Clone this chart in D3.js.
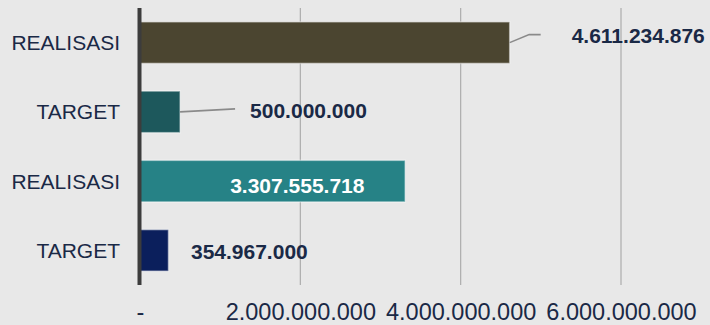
<!DOCTYPE html>
<html>
<head>
<meta charset="utf-8">
<script src="https://cdn.jsdelivr.net/npm/d3@7"></script>
<style>
  html, body { margin: 0; padding: 0; background: #e8e8e8; }
  svg { display: block; font-family: "Liberation Sans", Arial, sans-serif; }
</style>
</head>
<body>
<svg id="chart" width="710" height="325"></svg>
<script>
// Bar categories, top to bottom
const categories = ["REALISASI", "TARGET", "REALISASI", "TARGET"];
// Values in rupiah
const values = [4611234876, 500000000, 3307555718, 354967000];
// Bar fills
const colors = ["#4b4530", "#1d585c", "#268286", "#0b1f5c"];
// X axis ticks
const tickValues = [0, 2000000000, 4000000000, 6000000000];
const tickLabels = ["-", "2.000.000.000", "4.000.000.000", "6.000.000.000"];

// Data label placement relative to the end of each bar
const labelDx = [62, 70, -175, 22.5];
const labelDy = [-7.5, -1, 4, 1];
const labelFill = ["#1a2946", "#1a2946", "#ffffff", "#1a2946"];
const leaderLine = [true, true, false, false];

const svg = d3.select("#chart");
const textColor = "#1a2946";

const x = d3.scaleLinear().domain([0, 6000000000]).range([140, 621]);
const y = d3.scaleBand()
  .domain(d3.range(categories.length))
  .range([8, 285])
  .paddingInner(0.4)
  .paddingOuter(0.2);

const fmt = v => d3.format(",")(v).replace(/,/g, ".");

// Vertical gridlines
svg.append("g")
  .selectAll("line")
  .data(tickValues.slice(1))
  .join("line")
  .attr("x1", d => x(d)).attr("x2", d => x(d))
  .attr("y1", 8).attr("y2", 285)
  .attr("stroke", "#acacac")
  .attr("stroke-width", 1.2);

// Bottom tick labels
const xAxis = d3.axisBottom(x)
  .tickValues(tickValues)
  .tickFormat((d, i) => tickLabels[i])
  .tickSize(0)
  .tickPadding(0);
const gx = svg.append("g").attr("transform", "translate(0,303.5)").call(xAxis);
gx.select(".domain").remove();
gx.selectAll("text")
  .attr("fill", textColor)
  .attr("font-size", "23.5px")
  .attr("font-family", "'Liberation Sans', Arial, sans-serif")
  .attr("dy", "0.71em");

// Left category labels
const yAxis = d3.axisLeft(y)
  .tickFormat(i => categories[i])
  .tickSize(0)
  .tickPadding(0);
const gy = svg.append("g").attr("transform", "translate(120,0)").call(yAxis);
gy.select(".domain").remove();
gy.selectAll("text")
  .attr("fill", textColor)
  .attr("font-size", "21px")
  .attr("font-family", "'Liberation Sans', Arial, sans-serif")
  .attr("dy", "0.36em");

// Bars
svg.append("g")
  .selectAll("rect")
  .data(values)
  .join("rect")
  .attr("x", x(0))
  .attr("y", (d, i) => y(i))
  .attr("width", d => x(d) - x(0))
  .attr("height", y.bandwidth())
  .attr("fill", (d, i) => colors[i])
  .attr("stroke", "rgba(255,255,255,0.45)")
  .attr("stroke-width", 1.5);

// Vertical axis line at zero
svg.append("line")
  .attr("x1", x(0) - 0.5).attr("x2", x(0) - 0.5)
  .attr("y1", 8).attr("y2", 285)
  .attr("stroke", "#3c3c3c")
  .attr("stroke-width", 4);

// Leader lines from bar ends to the outside labels
const cy = i => y(i) + y.bandwidth() / 2;
svg.append("g")
  .selectAll("path")
  .data(values.map((v, i) => ({ v, i })).filter(d => leaderLine[d.i]))
  .join("path")
  .attr("d", d => {
    const x0 = x(d.v), y0 = cy(d.i);
    if (d.i === 0) {
      return `M${x0},${y0} L${x0 + 19.5},${y0 - 8} L${x0 + 31},${y0 - 8}`;
    }
    return `M${x0},${y0} L${x0 + 55},${y0 - 3}`;
  })
  .attr("fill", "none")
  .attr("stroke", "#8a8a8a")
  .attr("stroke-width", 1.6);

// Value labels
svg.append("g")
  .selectAll("text")
  .data(values)
  .join("text")
  .attr("x", (d, i) => x(d) + labelDx[i])
  .attr("y", (d, i) => cy(i) + labelDy[i])
  .attr("dy", "0.36em")
  .attr("font-size", "21px")
  .attr("font-weight", "bold")
  .attr("fill", (d, i) => labelFill[i])
  .text(d => fmt(d));
</script>
</body>
</html>
